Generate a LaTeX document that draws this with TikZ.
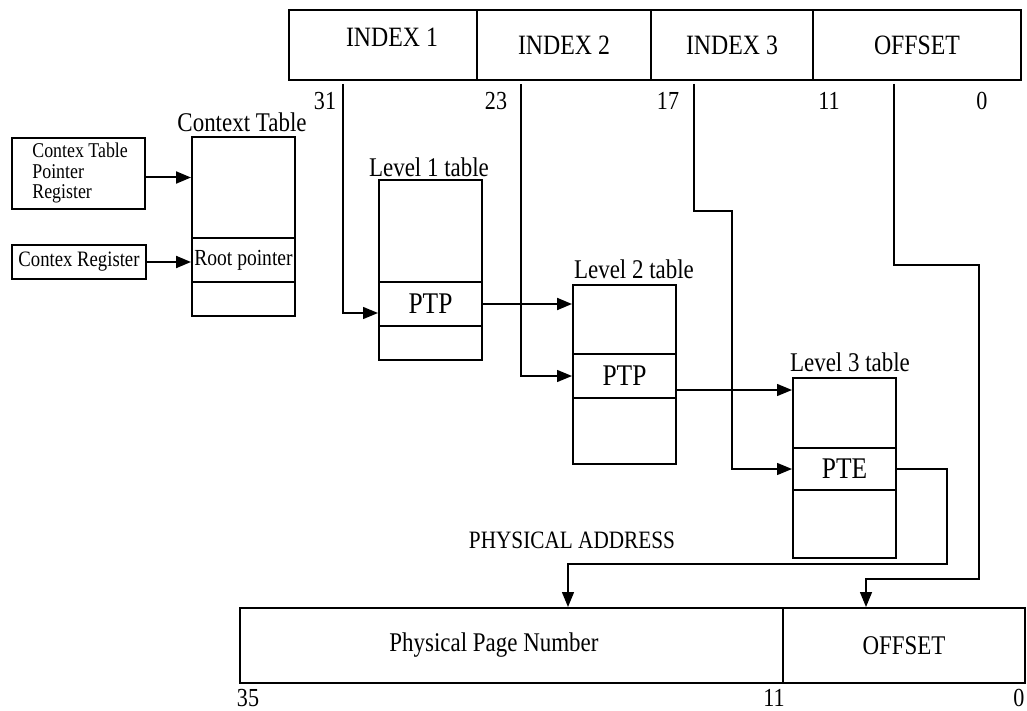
\documentclass[tikz,border=0pt]{standalone}
\usepackage{fontspec}
\setmainfont[FakeStretch=0.85]{Liberation Serif}
\usetikzlibrary{arrows.meta,fit}
\newcommand\fsz[1]{\fontsize{#1}{#1}\selectfont}
% \mkcell{name}{x1}{y1}{x2}{y2}{text}: a framed cell spanning two corners,
% with its text centred in it
\newcommand\mkcell[6]{%
  \path (#2,#3) coordinate (#1-nw) (#4,#5) coordinate (#1-se);
  \node[cell, fit=(#1-nw)(#1-se)] (#1) {};
  \node[celltxt] (#1-t) at (#1.center) {#6};}
\begin{document}
\begin{tikzpicture}[x=0.5pt,y=-0.5pt,
  cell/.style={draw, line width=1pt, inner sep=0pt},
  celltxt/.style={inner sep=0pt, font=\fsz{14}},
  txt/.style={inner sep=0pt, font=\fsz{13.5}},
  bits/.style={inner sep=0pt, font=\fsz{13}},
  conn/.style={line width=0.7pt},
  arr/.style={conn, -{Triangle[length=7.5pt,width=6pt]}},
]
\useasboundingbox (0,0) rectangle (1027,711);

% ---- virtual address ----
\mkcell{i1}{289}{10}{477}{80}{}
\mkcell{i2}{477}{10}{651}{80}{INDEX 2}
\mkcell{i3}{651}{10}{813}{80}{INDEX 3}
\mkcell{vo}{813}{10}{1021}{80}{OFFSET}
\node[txt, font=\fsz{14}] (ti1) at (392,37) {INDEX 1};

\node[bits] (b31) at (325,101) {31};
\node[bits] (b23) at (496,101) {23};
\node[bits] (b17) at (668,101) {17};
\node[bits] (b11) at (829,101) {11};
\node[bits] (b0)  at (982,101) {0};

\coordinate (t31) at (343,84);
\coordinate (t23) at (521,84);
\coordinate (t17) at (694,84);
\coordinate (t11) at (894,84);

% ---- context registers and context table ----
\mkcell{ctpr}{12}{138}{145}{209}{}
\node[txt, font=\fsz{10.5}, anchor=west, align=left] (ctprt) at (32,173)
  {Contex Table\\[-0.2pt]Pointer\\[-0.2pt]Register};
\mkcell{creg}{12}{245}{146}{279}{\fsz{11}Contex Register}

\node[txt] (ctxl) at (242,122) {Context Table};
\mkcell{ctxa}{192}{137}{295}{238}{}
\mkcell{root}{192}{238}{295}{282}{\fsz{11.5}Root pointer}
\mkcell{ctxb}{192}{282}{295}{316}{}

% ---- page tables ----
\node[txt] (l1l) at (429,167) {Level 1 table};
\mkcell{l1a}{379}{180}{482}{282}{}
\mkcell{l1p}{379}{282}{482}{326}{\fsz{15}PTP}
\mkcell{l1b}{379}{326}{482}{360}{}

\node[txt] (l2l) at (634,269) {Level 2 table};
\mkcell{l2a}{573}{285}{676}{354}{}
\mkcell{l2p}{573}{354}{676}{398}{\fsz{15}PTP}
\mkcell{l2b}{573}{398}{676}{464}{}

\node[txt] (l3l) at (850,362) {Level 3 table};
\mkcell{l3a}{793}{378}{896}{448}{}
\mkcell{l3p}{793}{448}{896}{490}{\fsz{15}PTE}
\mkcell{l3b}{793}{490}{896}{558}{}

% ---- physical address ----
\node[txt, font=\fsz{12.5}] (pal) at (572,540) {PHYSICAL ADDRESS};
\mkcell{ppn}{240}{608}{783}{683}{}
\node[txt] (ppnt) at (494,645) {Physical Page Number};
\mkcell{po}{783}{608}{1025}{683}{\fsz{13.5}OFFSET}
\node[bits] (p35) at (248,698) {35};
\node[bits] (p11) at (774,698) {11};
\node[bits] (p0)  at (1019,698) {0};

% ---- connectors ----
\coordinate (o0) at ([yshift=-2pt]ctpr.east);
\draw[arr, line width=1pt] (o0) -- (o0 -| ctxa.west);
\draw[arr, line width=1pt] (creg.east) -- (creg.east -| root.west);

\draw[arr] (t31) |- ([yshift=-4.5pt]l1p.west);
\draw[arr, line width=1pt] (l1p.east) -- (l1p.east -| l2a.west);

\draw[arr] (t23) |- (l2p.west);
\coordinate (o2) at ([yshift=-7pt]l2p.east);
\draw[arr] (o2) -- (o2 -| l3a.west);

\coordinate (j17) at (732,211);
\draw[arr] (t17) |- (j17) |- (l3p.west);

\coordinate (j3) at (947,564);
\coordinate (q3) at (568,564);
\draw[arr] (l3p.east) -| (j3) -- (q3) -- (q3 |- ppn.north);

\coordinate (j11) at (979,265);
\coordinate (k11) at (866,579);
\draw[arr] (t11) |- (j11) |- (k11) -- (k11 |- po.north);
\end{tikzpicture}
\end{document}
